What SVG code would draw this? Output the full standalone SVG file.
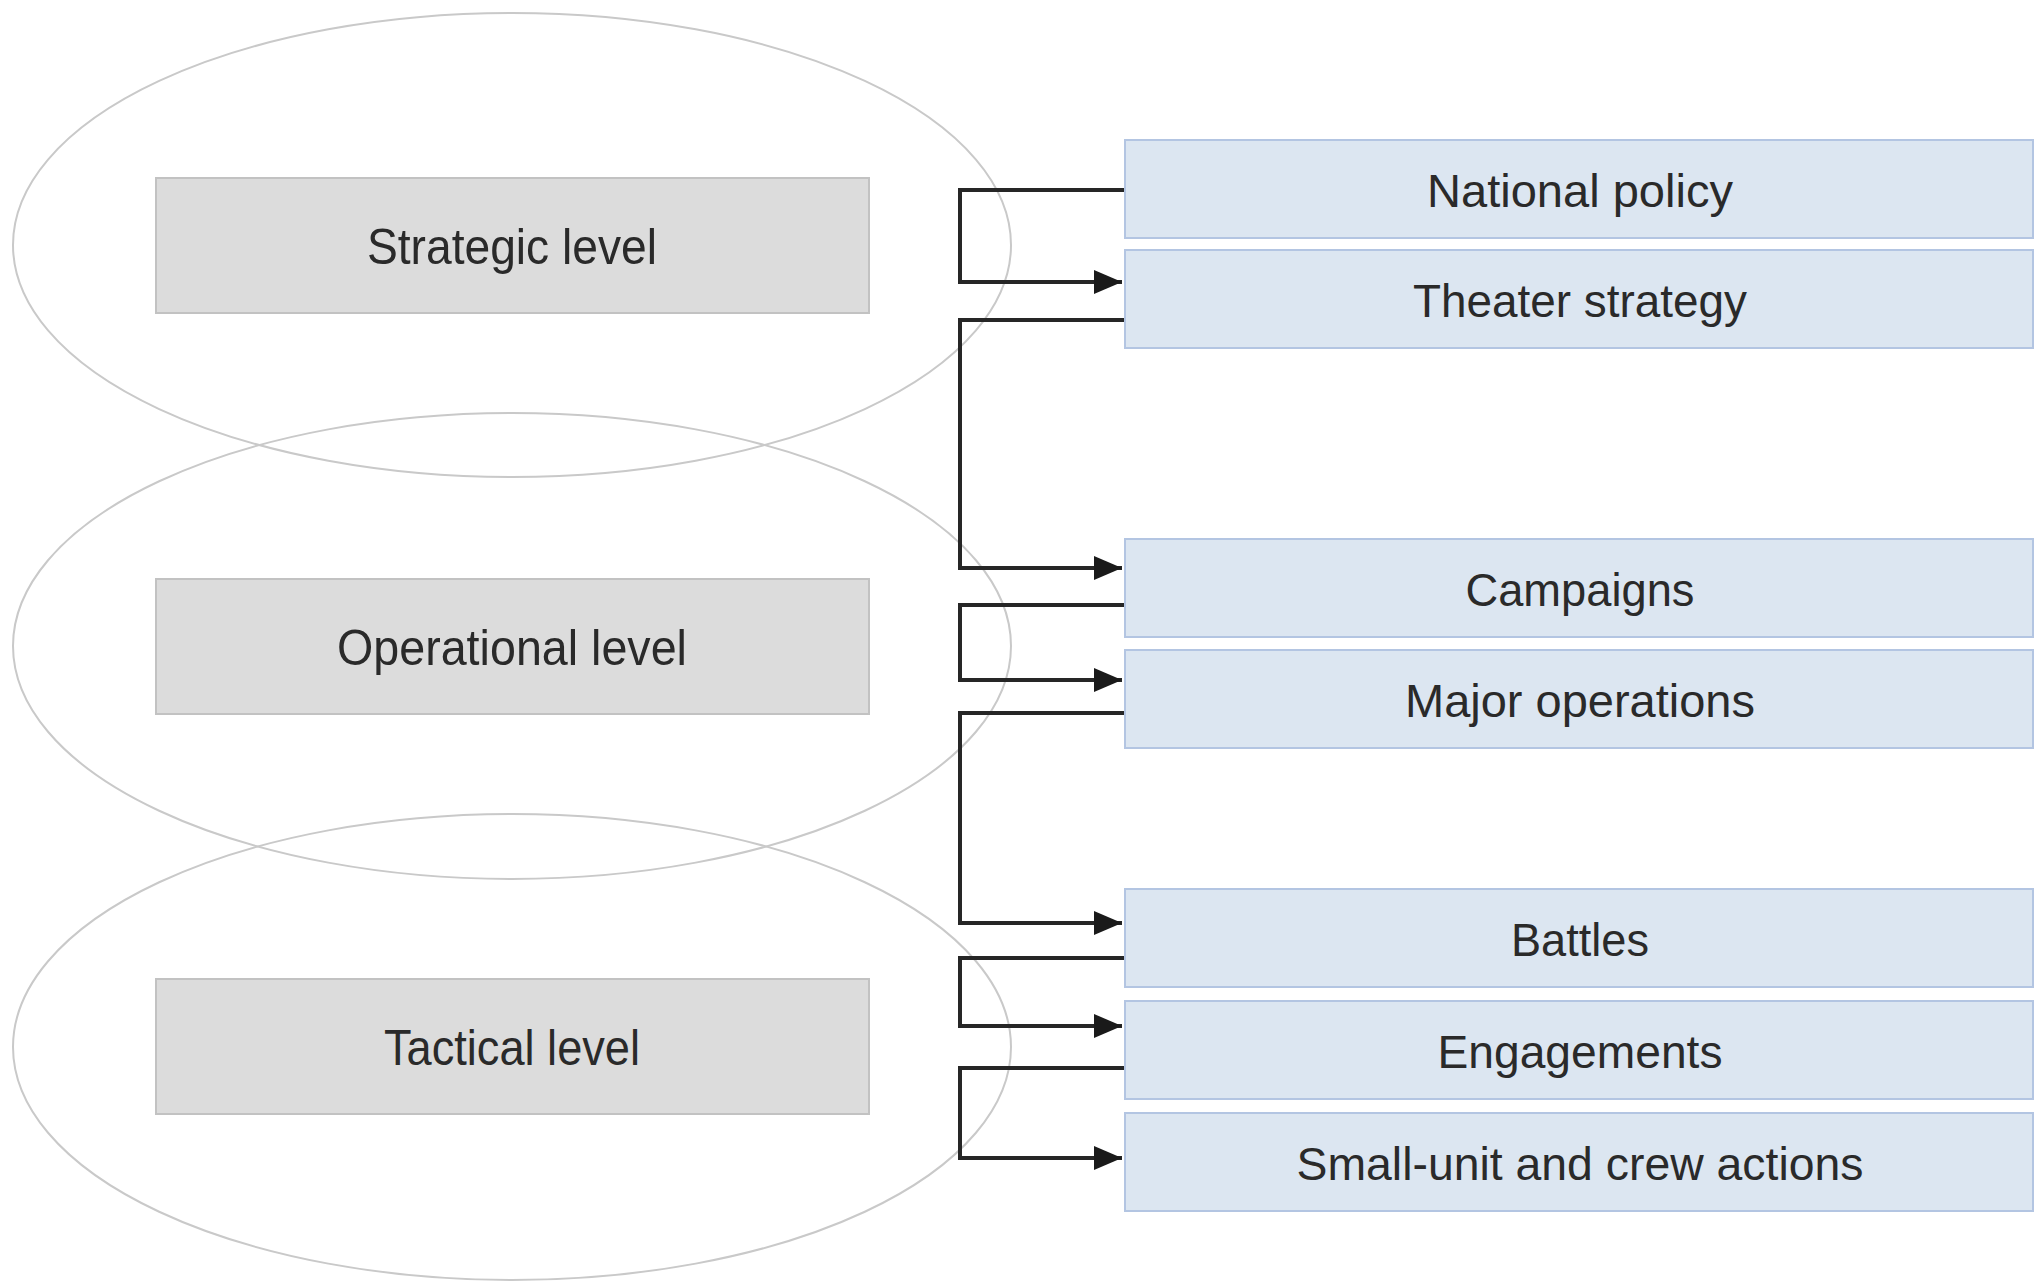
<svg xmlns="http://www.w3.org/2000/svg" width="2040" height="1283" viewBox="0 0 2040 1283">
<style>
.ell{fill:none;stroke:#c9c9c9;stroke-width:2}
.lvl{fill:#dcdcdc;stroke:#c2c2c2;stroke-width:2}
.blk{fill:#dce6f1;stroke:#b3c5e2;stroke-width:2}
.t{font-family:"Liberation Sans",Arial,sans-serif;fill:#2a2a2a;text-anchor:middle}
.tl{font-size:50px}
.tb{font-size:47px}
.con{fill:none;stroke:#262626;stroke-width:4;stroke-linejoin:miter}
</style>
<defs>
<marker id="arr" markerUnits="userSpaceOnUse" markerWidth="30" markerHeight="26" refX="28" refY="13" orient="auto">
<path d="M0,1 L28,13 L0,25 Z" fill="#1a1a1a"/>
</marker>
</defs>
<rect width="2040" height="1283" fill="#ffffff"/>
<g id="ellipses">
<ellipse class="ell" cx="512" cy="245" rx="499" ry="232"/>
<ellipse class="ell" cx="512" cy="646" rx="499" ry="233"/>
<ellipse class="ell" cx="512" cy="1047" rx="499" ry="233"/>
</g>
<g id="strategic-level"><rect class="lvl" x="156" y="178" width="713" height="135"/><text class="t tl" x="512" y="264" textLength="290" lengthAdjust="spacingAndGlyphs">Strategic level</text></g>
<g id="operational-level"><rect class="lvl" x="156" y="579" width="713" height="135"/><text class="t tl" x="512" y="665" textLength="350" lengthAdjust="spacingAndGlyphs">Operational level</text></g>
<g id="tactical-level"><rect class="lvl" x="156" y="979" width="713" height="135"/><text class="t tl" x="512" y="1065" textLength="256" lengthAdjust="spacingAndGlyphs">Tactical level</text></g>
<g id="national-policy"><rect class="blk" x="1125" y="140" width="908" height="98"/><text class="t tb" x="1580" y="207" textLength="306" lengthAdjust="spacingAndGlyphs">National policy</text></g>
<g id="theater-strategy"><rect class="blk" x="1125" y="250" width="908" height="98"/><text class="t tb" x="1580" y="317" textLength="334" lengthAdjust="spacingAndGlyphs">Theater strategy</text></g>
<g id="campaigns"><rect class="blk" x="1125" y="539" width="908" height="98"/><text class="t tb" x="1580" y="606" textLength="229" lengthAdjust="spacingAndGlyphs">Campaigns</text></g>
<g id="major-operations"><rect class="blk" x="1125" y="650" width="908" height="98"/><text class="t tb" x="1580" y="717" textLength="350" lengthAdjust="spacingAndGlyphs">Major operations</text></g>
<g id="battles"><rect class="blk" x="1125" y="889" width="908" height="98"/><text class="t tb" x="1580" y="956" textLength="138" lengthAdjust="spacingAndGlyphs">Battles</text></g>
<g id="engagements"><rect class="blk" x="1125" y="1001" width="908" height="98"/><text class="t tb" x="1580" y="1068" textLength="285" lengthAdjust="spacingAndGlyphs">Engagements</text></g>
<g id="small-unit"><rect class="blk" x="1125" y="1113" width="908" height="98"/><text class="t tb" x="1580" y="1180" textLength="567" lengthAdjust="spacingAndGlyphs">Small-unit and crew actions</text></g>
<g id="connectors">
<path class="con" d="M1124,190 H960 V282 H1122" marker-end="url(#arr)"/>
<path class="con" d="M1124,320 H960 V568 H1122" marker-end="url(#arr)"/>
<path class="con" d="M1124,605 H960 V680 H1122" marker-end="url(#arr)"/>
<path class="con" d="M1124,713 H960 V923 H1122" marker-end="url(#arr)"/>
<path class="con" d="M1124,958 H960 V1026 H1122" marker-end="url(#arr)"/>
<path class="con" d="M1124,1068 H960 V1158 H1122" marker-end="url(#arr)"/>
</g>
</svg>
